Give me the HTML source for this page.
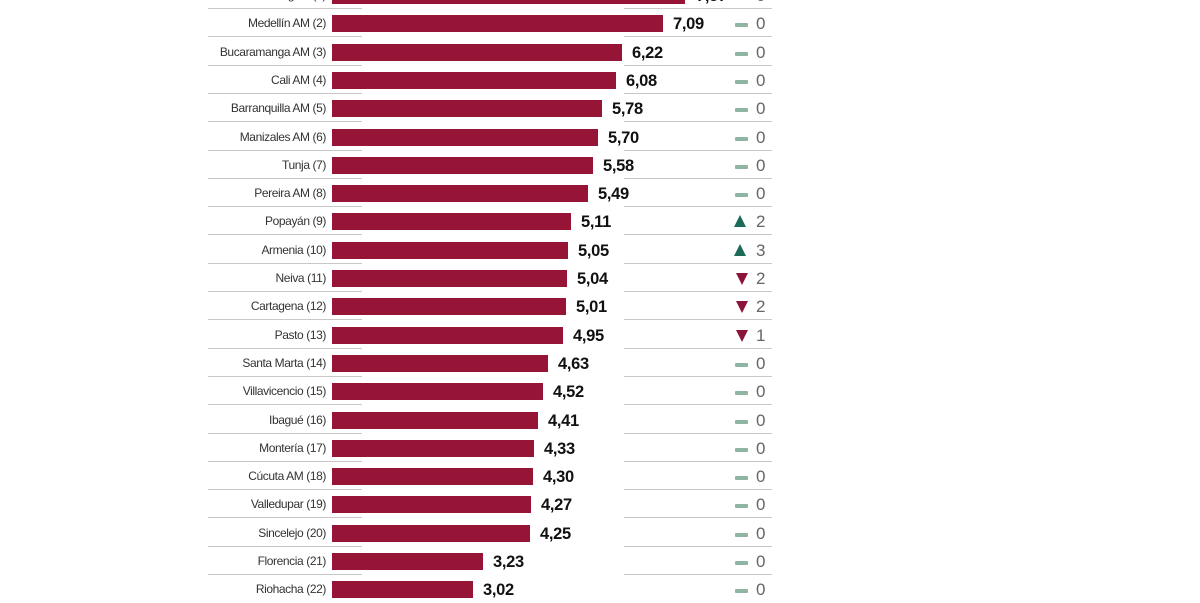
<!DOCTYPE html>
<html><head><meta charset="utf-8"><style>
body{margin:0;width:1200px;height:600px;background:#fff;overflow:hidden;position:relative;font-family:"Liberation Sans",sans-serif}
.r{position:absolute;left:0;width:1200px;height:28px}
.l{position:absolute;right:874px;top:7px;font-size:12px;color:#333;letter-spacing:-0.4px;white-space:nowrap}
.b{position:absolute;left:332px;top:6px;height:17px;background:#961537}
.v{position:absolute;top:6px;font-size:16.5px;font-weight:bold;color:#111;letter-spacing:-0.3px}
.d{position:absolute;left:735px;top:14px;width:13px;height:4px;background:#8fb4a2;border-radius:1px}
.z{position:absolute;left:756px;top:5px;font-size:17px;color:#666;font-weight:300}
.ln{position:absolute;top:27px;height:1px;background:#c8c8c8}
.up{position:absolute;left:734px;top:8px;width:0;height:0;border-left:6px solid transparent;border-right:6px solid transparent;border-bottom:12px solid #1c6b58}
.dn{position:absolute;left:736px;top:9px;width:0;height:0;border-left:6px solid transparent;border-right:6px solid transparent;border-top:12px solid #8c1438}
</style></head><body>
<div class="r" style="top:-19px"><span class="l">Bogotá (1)</span><div class="b" style="width:353px"></div><span class="v" style="left:696px">7,57</span><div class="d"></div><span class="z">0</span><div class="ln" style="left:208px;width:154px"></div><div class="ln" style="left:624px;width:148px"></div></div>
<div class="r" style="top:9px"><span class="l">Medellín AM (2)</span><div class="b" style="width:331px"></div><span class="v" style="left:673px">7,09</span><div class="d"></div><span class="z">0</span><div class="ln" style="left:208px;width:154px"></div><div class="ln" style="left:624px;width:148px"></div></div>
<div class="r" style="top:37.6px"><span class="l">Bucaramanga AM (3)</span><div class="b" style="width:290px"></div><span class="v" style="left:632px">6,22</span><div class="d"></div><span class="z">0</span><div class="ln" style="left:208px;width:154px"></div><div class="ln" style="left:624px;width:148px"></div></div>
<div class="r" style="top:65.9px"><span class="l">Cali AM (4)</span><div class="b" style="width:284px"></div><span class="v" style="left:626px">6,08</span><div class="d"></div><span class="z">0</span><div class="ln" style="left:208px;width:154px"></div><div class="ln" style="left:624px;width:148px"></div></div>
<div class="r" style="top:94.2px"><span class="l">Barranquilla AM (5)</span><div class="b" style="width:270px"></div><span class="v" style="left:612px">5,78</span><div class="d"></div><span class="z">0</span><div class="ln" style="left:208px;width:154px"></div><div class="ln" style="left:624px;width:148px"></div></div>
<div class="r" style="top:122.5px"><span class="l">Manizales AM (6)</span><div class="b" style="width:266px"></div><span class="v" style="left:608px">5,70</span><div class="d"></div><span class="z">0</span><div class="ln" style="left:208px;width:154px"></div><div class="ln" style="left:624px;width:148px"></div></div>
<div class="r" style="top:150.8px"><span class="l">Tunja (7)</span><div class="b" style="width:261px"></div><span class="v" style="left:603px">5,58</span><div class="d"></div><span class="z">0</span><div class="ln" style="left:208px;width:154px"></div><div class="ln" style="left:624px;width:148px"></div></div>
<div class="r" style="top:179.1px"><span class="l">Pereira AM (8)</span><div class="b" style="width:256px"></div><span class="v" style="left:598px">5,49</span><div class="d"></div><span class="z">0</span><div class="ln" style="left:208px;width:154px"></div><div class="ln" style="left:624px;width:148px"></div></div>
<div class="r" style="top:207.4px"><span class="l">Popayán (9)</span><div class="b" style="width:239px"></div><span class="v" style="left:581px">5,11</span><div class="up"></div><span class="z">2</span><div class="ln" style="left:208px;width:154px"></div><div class="ln" style="left:624px;width:148px"></div></div>
<div class="r" style="top:235.7px"><span class="l">Armenia (10)</span><div class="b" style="width:236px"></div><span class="v" style="left:578px">5,05</span><div class="up"></div><span class="z">3</span><div class="ln" style="left:208px;width:154px"></div><div class="ln" style="left:624px;width:148px"></div></div>
<div class="r" style="top:264px"><span class="l">Neiva (11)</span><div class="b" style="width:235px"></div><span class="v" style="left:577px">5,04</span><div class="dn"></div><span class="z">2</span><div class="ln" style="left:208px;width:154px"></div><div class="ln" style="left:624px;width:148px"></div></div>
<div class="r" style="top:292.3px"><span class="l">Cartagena (12)</span><div class="b" style="width:234px"></div><span class="v" style="left:576px">5,01</span><div class="dn"></div><span class="z">2</span><div class="ln" style="left:208px;width:154px"></div><div class="ln" style="left:624px;width:148px"></div></div>
<div class="r" style="top:320.6px"><span class="l">Pasto (13)</span><div class="b" style="width:231px"></div><span class="v" style="left:573px">4,95</span><div class="dn"></div><span class="z">1</span><div class="ln" style="left:208px;width:154px"></div><div class="ln" style="left:624px;width:148px"></div></div>
<div class="r" style="top:348.9px"><span class="l">Santa Marta (14)</span><div class="b" style="width:216px"></div><span class="v" style="left:558px">4,63</span><div class="d"></div><span class="z">0</span><div class="ln" style="left:208px;width:154px"></div><div class="ln" style="left:624px;width:148px"></div></div>
<div class="r" style="top:377.2px"><span class="l">Villavicencio (15)</span><div class="b" style="width:211px"></div><span class="v" style="left:553px">4,52</span><div class="d"></div><span class="z">0</span><div class="ln" style="left:208px;width:154px"></div><div class="ln" style="left:624px;width:148px"></div></div>
<div class="r" style="top:405.5px"><span class="l">Ibagué (16)</span><div class="b" style="width:206px"></div><span class="v" style="left:548px">4,41</span><div class="d"></div><span class="z">0</span><div class="ln" style="left:208px;width:154px"></div><div class="ln" style="left:624px;width:148px"></div></div>
<div class="r" style="top:433.8px"><span class="l">Montería (17)</span><div class="b" style="width:202px"></div><span class="v" style="left:544px">4,33</span><div class="d"></div><span class="z">0</span><div class="ln" style="left:208px;width:154px"></div><div class="ln" style="left:624px;width:148px"></div></div>
<div class="r" style="top:462.1px"><span class="l">Cúcuta AM (18)</span><div class="b" style="width:201px"></div><span class="v" style="left:543px">4,30</span><div class="d"></div><span class="z">0</span><div class="ln" style="left:208px;width:154px"></div><div class="ln" style="left:624px;width:148px"></div></div>
<div class="r" style="top:490.4px"><span class="l">Valledupar (19)</span><div class="b" style="width:199px"></div><span class="v" style="left:541px">4,27</span><div class="d"></div><span class="z">0</span><div class="ln" style="left:208px;width:154px"></div><div class="ln" style="left:624px;width:148px"></div></div>
<div class="r" style="top:518.7px"><span class="l">Sincelejo (20)</span><div class="b" style="width:198px"></div><span class="v" style="left:540px">4,25</span><div class="d"></div><span class="z">0</span><div class="ln" style="left:208px;width:154px"></div><div class="ln" style="left:624px;width:148px"></div></div>
<div class="r" style="top:547px"><span class="l">Florencia (21)</span><div class="b" style="width:151px"></div><span class="v" style="left:493px">3,23</span><div class="d"></div><span class="z">0</span><div class="ln" style="left:208px;width:154px"></div><div class="ln" style="left:624px;width:148px"></div></div>
<div class="r" style="top:575.3px"><span class="l">Riohacha (22)</span><div class="b" style="width:141px"></div><span class="v" style="left:483px">3,02</span><div class="d"></div><span class="z">0</span></div>
</body></html>
